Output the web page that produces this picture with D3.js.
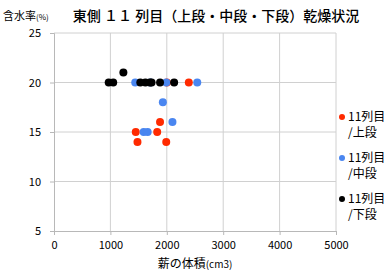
<!DOCTYPE html>
<html>
<head>
<meta charset="utf-8">
<script src="https://cdn.jsdelivr.net/npm/d3@7"></script>
<style>
  body { margin: 0; background: #fff; }
  text { font-family: "Noto Sans CJK JP", "DejaVu Sans", sans-serif; fill: #000; }
</style>
</head>
<body>
<div class="chart"></div>
<script>
// data
const upper = [[2000, 20], [2390, 20], [1880, 16], [1450, 15], [1830, 15], [1480, 14], [1990, 14]];
const middle = [[1440, 20], [1710, 20], [1990, 20], [2540, 20], [1930, 18], [2100, 16], [1590, 15], [1660, 15]];
const lower = [[970, 20], [1050, 20], [1230, 21], [1530, 20], [1620, 20], [1700, 20], [1730, 20], [1880, 20], [2130, 20]];
const seriesNames = ["11列目\n/上段", "11列目\n/中段", "11列目\n/下段"];
const seriesColors = ["#ff2a00", "#4a86f0", "#000000"];
const xTicks = [0, 1000, 2000, 3000, 4000, 5000];
const yTicks = [5, 10, 15, 20, 25];

let svgWidth = 392;
let svgHeight = 274;
let margin = { top: 33, right: 56, bottom: 43, left: 54 };
let width = svgWidth - margin.left - margin.right;
let height = svgHeight - margin.top - margin.bottom;

let svg = d3.select(".chart").append("svg")
  .attr("width", svgWidth)
  .attr("height", svgHeight);

let chartGroup = svg.append("g")
  .attr("transform", `translate(${margin.left}, ${margin.top})`);

let x = d3.scaleLinear().domain([0, 5000]).range([0, width]);
let y = d3.scaleLinear().domain([5, 25]).range([height, 0]);

// gridlines
chartGroup.selectAll(".vgrid").data(xTicks.slice(1)).enter().append("line")
  .attr("x1", d => x(d)).attr("x2", d => x(d))
  .attr("y1", 0).attr("y2", height)
  .attr("stroke", "#d0d0d0").attr("stroke-width", 1);
chartGroup.selectAll(".hgrid").data(yTicks.slice(1)).enter().append("line")
  .attr("x1", 0).attr("x2", width)
  .attr("y1", d => y(d)).attr("y2", d => y(d))
  .attr("stroke", "#d0d0d0").attr("stroke-width", 1);

// axes
let bottomAxis = d3.axisBottom(x).tickValues(xTicks).tickFormat(d3.format("d")).tickSize(4).tickPadding(6);
let leftAxis = d3.axisLeft(y).tickValues(yTicks).tickFormat(d3.format("d")).tickSize(4).tickPadding(9);

let gx = chartGroup.append("g")
  .attr("transform", `translate(0, ${height})`)
  .call(bottomAxis);
let gy = chartGroup.append("g").call(leftAxis);

[gx, gy].forEach(g => {
  g.select(".domain").attr("stroke", "#b8b8b8");
  g.selectAll(".tick line").attr("stroke", "#b8b8b8");
  g.selectAll(".tick text").attr("font-size", "11px").attr("fill", "#000");
});
gy.selectAll(".tick line").attr("x1", 0).attr("x2", -4);
gx.selectAll(".tick line").attr("y1", 0).attr("y2", 4);

// points
[upper, middle, lower].forEach((pts, i) => {
  chartGroup.append("g").selectAll("circle")
    .data(pts).enter().append("circle")
    .attr("cx", d => x(d[0]))
    .attr("cy", d => y(d[1]))
    .attr("r", 4)
    .attr("fill", seriesColors[i]);
});

// title and axis labels
svg.append("text")
  .attr("x", 216).attr("y", 21)
  .attr("text-anchor", "middle")
  .attr("font-size", "14px")
  .attr("font-weight", "500")
  .text("東側 １１ 列目（上段・中段・下段）乾燥状況");

let yl = svg.append("text").attr("x", 3).attr("y", 20);
yl.append("tspan").attr("font-size", "11px").text("含水率");
yl.append("tspan").attr("font-size", "8px").text("(%)");

let xl = svg.append("text").attr("x", 195).attr("y", 268).attr("text-anchor", "middle");
xl.append("tspan").attr("font-size", "12px").text("薪の体積");
xl.append("tspan").attr("font-size", "10px").text("(cm3)");

// legend
let legend = svg.append("g").attr("transform", "translate(338, 0)");
seriesNames.forEach((name, i) => {
  let ly = 121 + i * 41;
  legend.append("circle").attr("cx", 4).attr("cy", ly - 4).attr("r", 3).attr("fill", seriesColors[i]);
  let t = legend.append("text").attr("x", 10).attr("y", ly).attr("font-size", "12px");
  name.split("\n").forEach((line, j) => {
    t.append("tspan").attr("x", 10).attr("dy", j === 0 ? 0 : 16).text(line);
  });
});
</script>
</body>
</html>
